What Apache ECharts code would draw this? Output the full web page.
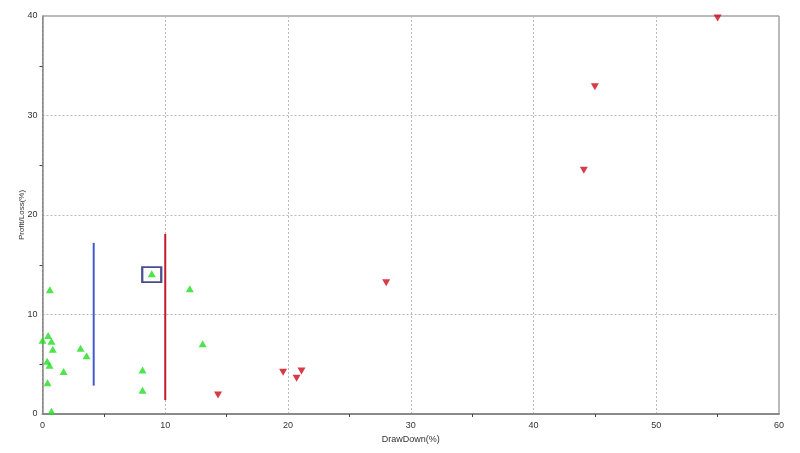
<!DOCTYPE html>
<html>
<head>
<meta charset="utf-8">
<script src="https://cdn.jsdelivr.net/npm/echarts@6/dist/echarts.min.js"></script>
<style>html,body{margin:0;padding:0;background:#fff}#c{width:800px;height:453px}</style>
</head>
<body>
<div id="c"></div>
<script>
var xTicks = [0, 10, 20, 30, 40, 50, 60];
var yTicks = [0, 10, 20, 30, 40];
var greenPoints = [
  [0.0, 7.4], [0.46, 7.9], [0.73, 7.3], [0.84, 6.5], [0.38, 5.3], [0.57, 4.9],
  [1.72, 4.26], [0.41, 3.15], [0.73, 0.27], [3.1, 6.6], [3.59, 5.85],
  [8.15, 4.43], [8.15, 2.39], [13.05, 7.05], [0.6, 12.5], [8.9, 14.1], [12.0, 12.6]
];
var redPoints = [
  [14.3, 1.9], [19.6, 4.2], [20.7, 3.6], [21.1, 4.33], [28.0, 13.2],
  [44.1, 24.5], [45.0, 32.9], [55.0, 39.8]
];
var bluePoints = [[4.17, 2.85], [4.17, 17.2]];
var redLinePoints = [[10.0, 1.4], [10.0, 18.1]];
var selectedPoint = [[8.9, 14.0]];

var chart = echarts.init(document.getElementById('c'));
var font = 'Liberation Sans';
chart.setOption({
  animation: false,
  grid: { left: 42.5, right: 21, top: 16, bottom: 39, show: true, borderColor: '#777', borderWidth: 1, backgroundColor: 'transparent' },
  xAxis: {
    type: 'value', min: xTicks[0], max: xTicks[xTicks.length - 1], interval: 10,
    name: 'DrawDown(%)', nameLocation: 'middle', nameGap: 21, nameMoveOverlap: false,
    nameTextStyle: { fontFamily: font, fontSize: 9, color: '#333' },
    axisLine: { lineStyle: { color: '#8a8a8a', width: 2 } },
    axisTick: { show: false },
    minorTick: { show: true, splitNumber: 2, length: 3, lineStyle: { color: '#444', width: 1 } },
    axisLabel: { fontFamily: font, fontSize: 9, color: '#333', margin: 7 },
    splitLine: { show: true, lineStyle: { type: [2, 2], color: '#bbb', width: 1 } }
  },
  yAxis: {
    type: 'value', min: yTicks[0], max: yTicks[yTicks.length - 1], interval: 10,
    name: 'Profit/Loss(%)', nameLocation: 'middle', nameGap: 17, nameMoveOverlap: false,
    nameTextStyle: { fontFamily: font, fontSize: 8, color: '#333' },
    axisLine: { show: true, lineStyle: { color: '#8a8a8a', width: 1.5 } },
    axisTick: { show: false },
    minorTick: { show: true, splitNumber: 2, length: 3, lineStyle: { color: '#444', width: 1 } },
    axisLabel: { fontFamily: font, fontSize: 9, color: '#333', margin: 5 },
    splitLine: { show: true, lineStyle: { type: [2, 2], color: '#bbb', width: 1 } }
  },
  series: [
    { type: 'line', data: bluePoints, symbol: 'none', lineStyle: { color: '#4458d0', width: 2 }, z: 3 },
    { type: 'line', data: redLinePoints, symbol: 'none', lineStyle: { color: '#c01c2c', width: 2 }, z: 3 },
    { type: 'scatter', data: greenPoints, symbol: 'triangle', symbolSize: [8, 7], itemStyle: { color: '#22dd22' }, z: 4 },
    { type: 'scatter', data: redPoints, symbol: 'triangle', symbolRotate: 180, symbolSize: [8, 7], itemStyle: { color: '#cc0a1a' }, z: 4 },
    { type: 'scatter', data: selectedPoint, symbol: 'rect', symbolSize: [19, 15], itemStyle: { color: 'rgba(0,0,0,0)', borderColor: '#1c2270', borderWidth: 2 }, z: 5 }
  ]
});
</script>
</body>
</html>
